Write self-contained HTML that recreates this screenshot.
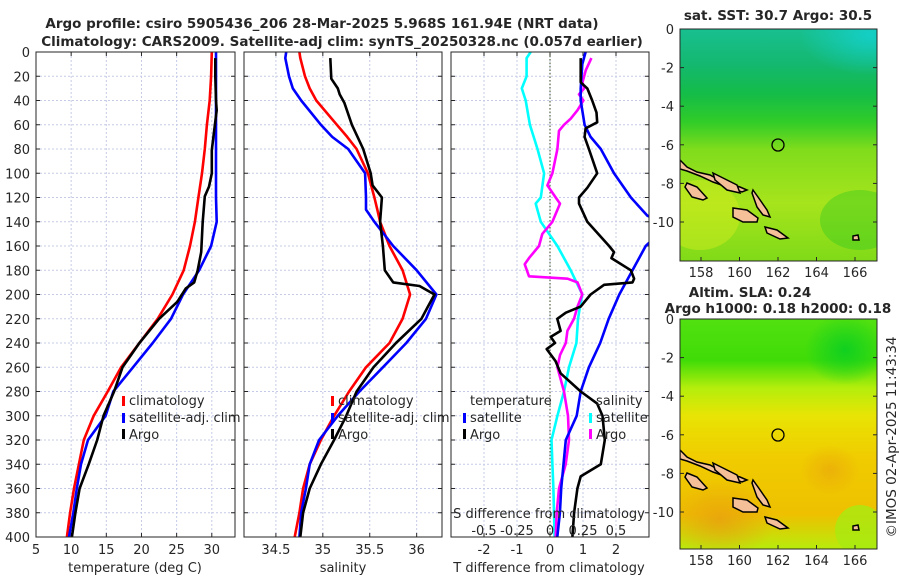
<!DOCTYPE html>
<html><head><meta charset="utf-8">
<style>
body{margin:0;background:#fff;}
svg text{font-family:"DejaVu Sans","Liberation Sans",sans-serif;fill:#262626;}
</style></head>
<body>
<svg id="fig" xmlns="http://www.w3.org/2000/svg" width="900" height="580" viewBox="0 0 900 580">
<defs>
<linearGradient id="sstGrad" x1="0" y1="0" x2="0" y2="1">
<stop offset="0" stop-color="#18c090"/><stop offset="0.15" stop-color="#14b870"/>
<stop offset="0.28" stop-color="#14bc48"/><stop offset="0.4" stop-color="#30cc28"/>
<stop offset="0.52" stop-color="#80dc1c"/><stop offset="0.75" stop-color="#a6e41c"/>
<stop offset="1" stop-color="#80da18"/></linearGradient>
<linearGradient id="sstTeal" x1="0" y1="0" x2="1" y2="0">
<stop offset="0" stop-color="#1ab88a" stop-opacity="0"/><stop offset="1" stop-color="#16d0c8" stop-opacity="0.9"/></linearGradient>
<linearGradient id="slaGrad" x1="0" y1="0" x2="0" y2="1">
<stop offset="0" stop-color="#52e010"/><stop offset="0.18" stop-color="#40dc08"/>
<stop offset="0.3" stop-color="#b4ee0c"/><stop offset="0.42" stop-color="#e8e404"/>
<stop offset="0.6" stop-color="#f0cc00"/><stop offset="0.85" stop-color="#eec000"/>
<stop offset="1" stop-color="#b8ec0c"/></linearGradient>
<radialGradient id="orangeBlob"><stop offset="0" stop-color="#e89a10"/><stop offset="1" stop-color="#e89a10" stop-opacity="0"/></radialGradient>
<radialGradient id="greenBlob"><stop offset="0" stop-color="#10d020"/><stop offset="1" stop-color="#10d020" stop-opacity="0"/></radialGradient>
<radialGradient id="tealBlob"><stop offset="0" stop-color="#14d0cc"/><stop offset="1" stop-color="#14d0cc" stop-opacity="0"/></radialGradient>
<clipPath id="clipP1"><rect x="36" y="52" width="199" height="485"/></clipPath>
<clipPath id="clipP2"><rect x="244" y="52" width="198" height="485"/></clipPath>
<clipPath id="clipP3"><rect x="451" y="52" width="198" height="485"/></clipPath>
<clipPath id="clipM1"><rect x="680" y="29" width="197" height="232"/></clipPath>
<clipPath id="clipM2"><rect x="680" y="319" width="197" height="230"/></clipPath>
</defs>

<text x="322" y="28" text-anchor="middle" font-size="13.5" font-weight="bold">Argo profile: csiro 5905436_206 28-Mar-2025 5.968S 161.94E (NRT data)</text>
<text x="342" y="46" text-anchor="middle" font-size="13.5" font-weight="bold">Climatology: CARS2009. Satellite-adj clim: synTS_20250328.nc (0.057d earlier)</text>

<g id="panels"></g>

<g>
<text x="778" y="20" text-anchor="middle" font-size="13.5" font-weight="bold">sat. SST: 30.7 Argo: 30.5</text>
<g clip-path="url(#clipM1)">
<rect x="680" y="29" width="197" height="232" fill="url(#sstGrad)"/>
<ellipse cx="870" cy="35" rx="70" ry="40" fill="url(#tealBlob)" opacity="0.9"/>
<ellipse cx="700" cy="215" rx="40" ry="35" fill="#d8ee20" opacity="0.45"/>
<ellipse cx="860" cy="220" rx="40" ry="30" fill="#30c820" opacity="0.4"/>
<g id="islandsTop"></g>
</g>
<rect x="680" y="29" width="197" height="232" fill="none" stroke="#262626" stroke-width="1"/>
<circle cx="778" cy="145" r="6" fill="none" stroke="#000" stroke-width="1.3"/>
<g id="map1axes"></g>
</g>
<g>
<text x="750" y="297" text-anchor="middle" font-size="13.5" font-weight="bold">Altim. SLA: 0.24</text>
<text x="778" y="313" text-anchor="middle" font-size="13.5" font-weight="bold">Argo h1000: 0.18 h2000: 0.18</text>
<g clip-path="url(#clipM2)">
<rect x="680" y="319" width="197" height="230" fill="url(#slaGrad)"/>
<ellipse cx="845" cy="350" rx="40" ry="35" fill="url(#greenBlob)"/>
<ellipse cx="720" cy="520" rx="55" ry="40" fill="url(#orangeBlob)" opacity="0.7"/>
<ellipse cx="830" cy="470" rx="30" ry="25" fill="url(#orangeBlob)" opacity="0.5"/>
<ellipse cx="860" cy="530" rx="25" ry="25" fill="#a8ea10" opacity="0.8"/>
<g id="islandsBot"></g>
</g>
<rect x="680" y="319" width="197" height="230" fill="none" stroke="#262626" stroke-width="1"/>
<circle cx="778" cy="435" r="6" fill="none" stroke="#000" stroke-width="1.3"/>
<g id="map2axes"></g>
</g>
<text transform="translate(896,437) rotate(-90)" text-anchor="middle" font-size="13.5">©IMOS 02-Apr-2025 11:43:34</text>
</svg>

<script>
const depthT = [0,20,40,60,80,100,120,140,160,180,200,220,240,260,280,300,320,340,360,380,400];
const tempClim = [30.0,29.9,29.7,29.3,29.0,28.6,28.1,27.6,26.9,26.0,24.4,22.3,19.7,17.1,15.2,13.2,11.8,11.1,10.4,9.85,9.4];
const tempSat  = [30.6,30.6,30.6,30.6,30.6,30.6,30.6,30.7,29.9,28.2,25.9,24.2,21.6,18.8,16.0,14.9,12.4,11.4,10.8,10.3,9.7];
const depthArgoT = [5,20,40,48,62,81,100,111,119,140,165,180,190,195,206,220,240,260,280,300,320,340,360,380,400];
const tempArgo = [30.5,30.5,30.6,30.7,30.4,30.0,30.0,29.6,29.0,28.7,28.5,28.0,27.5,26.3,25.1,22.5,19.7,17.3,16.1,14.6,13.7,12.5,11.2,10.6,10.1];

const depthS = [0,5,20,30,40,60,70,80,100,120,130,140,160,180,200,220,240,260,280,300,320,340,360,380,400];
const salClim = [34.75,34.76,34.81,34.86,34.93,35.15,35.26,35.36,35.48,35.55,35.58,35.61,35.71,35.85,35.93,35.85,35.71,35.46,35.28,35.12,34.98,34.86,34.79,34.75,34.70];
const salSat  = [34.61,34.60,34.64,34.68,34.77,34.98,35.10,35.27,35.45,35.46,35.46,35.55,35.75,36.0,36.21,36.1,35.89,35.64,35.39,35.16,34.96,34.86,34.82,34.77,34.75];
const depthArgoS = [5,22,30,35,42,60,80,100,110,120,140,160,180,190,193,200,210,220,240,260,280,300,320,340,360,380,400];
const salArgo = [35.08,35.09,35.16,35.18,35.23,35.31,35.43,35.51,35.53,35.63,35.61,35.64,35.66,35.75,36.03,36.19,36.12,36.05,35.78,35.54,35.36,35.25,35.12,34.98,34.86,34.79,34.76];

const depthD1 = [0,5,20,30,40,60,80,100,120,125,140,160,180,200,210,220,240,260,280,300,320,340,360,380,400];
const dSalSat = [-0.146,-0.177,-0.177,-0.214,-0.184,-0.152,-0.095,-0.045,-0.07,-0.108,-0.07,0.056,0.157,0.245,0.227,0.212,0.2,0.144,0.106,0.056,0.011,0.018,0.026,0.03,0.035];
const depthD2 = [5,15,25,30,35,40,48,55,60,65,80,100,110,120,125,140,150,160,170,175,185,187,190,200,210,220,230,240,250,260,270,280,300,320,340,360,380,400];
const dSalArgo = [0.314,0.271,0.246,0.258,0.22,0.253,0.208,0.157,0.106,0.068,0.056,0.018,-0.02,0.043,0.076,0.018,-0.058,-0.083,-0.159,-0.192,-0.159,0.133,0.208,0.245,0.208,0.182,0.132,0.12,0.076,0.056,0.081,0.106,0.136,0.144,0.119,0.068,0.051,0.043];
const depthD3 = [0,10,30,40,60,70,80,100,120,135,137,155,160,180,200,220,240,260,280,300,320,340,360,380,400];
const dTempSat = [1.08,0.98,0.93,0.93,1.05,1.23,1.54,1.94,2.45,2.95,3.1,3.1,2.9,2.5,2.1,1.78,1.52,1.18,0.93,0.81,0.48,0.41,0.34,0.3,0.22];
const depthD4 = [5,25,30,40,50,58,63,70,80,100,112,120,125,140,160,165,170,180,187,190,192,200,210,215,220,230,235,240,245,255,265,280,290,300,320,340,350,360,380,400];
const dTempArgo = [0.93,0.93,1.13,1.28,1.41,1.43,1.08,1.05,1.18,1.43,1.13,0.88,0.88,1.13,1.79,1.94,1.86,2.45,2.55,2.5,1.64,1.23,0.93,0.48,0.22,0.32,0.02,0.15,-0.1,0.17,0.32,0.93,1.43,1.59,1.66,1.54,0.93,0.83,0.73,0.68];

const depthTicks = [0,20,40,60,80,100,120,140,160,180,200,220,240,260,280,300,320,340,360,380,400];
const tempTicks = [5,10,15,20,25,30];
const salTicks = [34.5,35,35.5,36];
const tDiffTicks = [-2,-1,0,1,2];
const sDiffTicks = [-0.5,-0.25,0,0.25,0.5];
const latTicks = [0,-2,-4,-6,-8,-10];
const lonTicks = [158,160,162,164,166];

const NS='http://www.w3.org/2000/svg';
const Y0=52, Y1=537;
const yD = d => Y0 + d/400*(Y1-Y0);
const P1={x0:36,x1:235,min:5,max:33.3};
const P2={x0:244,x1:442,min:34.16,max:36.27};
const P3={x0:451,x1:649,min:-3,max:3};
const sx = (p,v) => p.x0 + (v-p.min)/(p.max-p.min)*(p.x1-p.x0);
const root=document.getElementById('panels');
function el(tag,attrs,parent){const e=document.createElementNS(NS,tag);for(const k in attrs)e.setAttribute(k,attrs[k]);(parent||root).appendChild(e);return e;}

function frame(p,name){
  const g=el('g',{});
  
  
  return g;
}
function grid(g,p,xt,xmap){
  depthTicks.forEach(d=>{ if(d>0&&d<400){
    const l=el('line',{x1:p.x0,x2:p.x1,y1:yD(d),y2:yD(d),stroke:'#c5cbe6','stroke-width':1,'stroke-dasharray':'2,2'},g);
    
    }
    const t1=el('line',{x1:p.x0,x2:p.x0+4,y1:yD(d),y2:yD(d),stroke:'#262626'},g);
    
    
    const t2=el('line',{x1:p.x1-4,x2:p.x1,y1:yD(d),y2:yD(d),stroke:'#262626'},g);
    
    
  });
  xt.forEach(v=>{const x=xmap(v);
    const l=el('line',{x1:x,x2:x,y1:Y0,y2:Y1,stroke:'#c5cbe6','stroke-width':1,'stroke-dasharray':'2,2'},g);
    
    
    el('line',{x1:x,x2:x,y1:Y1-4,y2:Y1,stroke:'#262626'},g);
    el('line',{x1:x,x2:x,y1:Y0,y2:Y0+4,stroke:'#262626'},g);
  });
}
function box(g,p){const r=el('rect',{x:p.x0,y:Y0,width:p.x1-p.x0,height:Y1-Y0,fill:'none',stroke:'#262626','stroke-width':1},g);
  
  }
function line(g,depths,vals,xmap,color,name,clip){
  const pts=depths.map((d,i)=>xmap(vals[i]).toFixed(1)+','+yD(d).toFixed(1)).join(' ');
  const pl=el('polyline',{points:pts,fill:'none',stroke:color,'stroke-width':2.6,'stroke-linejoin':'round','clip-path':'url(#'+clip+')'},g);
  
  
}
function txt(g,x,y,s,anchor,name,size){
  const t=el('text',{x:x,y:y,'text-anchor':anchor||'middle','font-size':size||13},g);
  t.textContent=s;
  
  
  return t;
}
function legMark(g,x,y,color,name){
  const r=el('rect',{x:x,y:y-5,width:3,height:10,fill:color},g);
  
  
}

const g1=frame(P1,'temperature-panel');
const xT=v=>sx(P1,v);
grid(g1,P1,tempTicks,xT);
line(g1,depthT,tempClim,xT,'#ff0000','temp-climatology-line','clipP1');
line(g1,depthT,tempSat,xT,'#0000ff','temp-satellite-line','clipP1');
line(g1,depthArgoT,tempArgo,xT,'#000000','temp-argo-line','clipP1');
box(g1,P1);
depthTicks.forEach(d=>txt(g1,30,yD(d)+5,String(d),'end','depth-tick-label'));
tempTicks.forEach(v=>txt(g1,xT(v),554,String(v),'middle','temp-tick-label'));
txt(g1,135,572,'temperature (deg C)','middle','x-axis-title-temperature');
legMark(g1,122,401,'#ff0000','legend-mark-climatology'); txt(g1,129,405,'climatology','start','legend-climatology');
legMark(g1,122,418,'#0000ff','legend-mark-satellite'); txt(g1,129,422,'satellite-adj. clim','start','legend-satellite-adj');
legMark(g1,122,434,'#000000','legend-mark-argo'); txt(g1,129,439,'Argo','start','legend-argo');

const g2=frame(P2,'salinity-panel');
const xS=v=>sx(P2,v);
grid(g2,P2,salTicks,xS);
line(g2,depthS,salClim,xS,'#ff0000','sal-climatology-line','clipP2');
line(g2,depthS,salSat,xS,'#0000ff','sal-satellite-line','clipP2');
line(g2,depthArgoS,salArgo,xS,'#000000','sal-argo-line','clipP2');
box(g2,P2);
salTicks.forEach(v=>txt(g2,xS(v),554,String(v),'middle','sal-tick-label'));
txt(g2,343,572,'salinity','middle','x-axis-title-salinity');
legMark(g2,331,401,'#ff0000','legend-mark-climatology-2'); txt(g2,338,405,'climatology','start','legend-climatology-2');
legMark(g2,331,418,'#0000ff','legend-mark-satellite-2'); txt(g2,338,422,'satellite-adj. clim','start','legend-satellite-adj-2');
legMark(g2,331,434,'#000000','legend-mark-argo-2'); txt(g2,338,439,'Argo','start','legend-argo-2');

const g3=frame(P3,'difference-panel');
const xD=v=>sx(P3,v);
const xSD=v=>sx(P3,v*4);
grid(g3,P3,tDiffTicks,xD);
const z=el('line',{x1:xD(0),x2:xD(0),y1:Y0,y2:Y1,stroke:'#3a4a20','stroke-width':1,'stroke-dasharray':'1.5,2'},g3);


line(g3,depthD1,dSalSat,xSD,'#00ffff','sal-diff-satellite-line','clipP3');
line(g3,depthD2,dSalArgo,xSD,'#ff00ff','sal-diff-argo-line','clipP3');
line(g3,depthD3,dTempSat,xD,'#0000ff','temp-diff-satellite-line','clipP3');
line(g3,depthD4,dTempArgo,xD,'#000000','temp-diff-argo-line','clipP3');
box(g3,P3);
tDiffTicks.forEach(v=>txt(g3,xD(v),554,String(v),'middle','tdiff-tick-label'));
txt(g3,549,572,'T difference from climatology','middle','x-axis-title-tdiff');
sDiffTicks.forEach(v=>txt(g3,xSD(v),535,String(v),'middle','sdiff-tick-label'));
txt(g3,549,518,'S difference from climatology','middle','sdiff-axis-title');
txt(g3,470,405,'temperature','start','legend-temperature-heading');
legMark(g3,463,418,'#0000ff','legend-mark-tsat'); txt(g3,470,422,'satellite','start','legend-tsat');
legMark(g3,463,434,'#000000','legend-mark-targo'); txt(g3,470,439,'Argo','start','legend-targo');
txt(g3,596,405,'salinity','start','legend-salinity-heading');
legMark(g3,589,418,'#00ffff','legend-mark-ssat'); txt(g3,596,422,'satellite','start','legend-ssat');
legMark(g3,589,434,'#ff00ff','legend-mark-sargo'); txt(g3,596,439,'Argo','start','legend-sargo');

function mapAxes(id,top,bottom){
  const g=document.getElementById(id);
  const ly=v=>top + (-v)*19.3;
  const lx=v=>778 + (v-162)*19.25;
  latTicks.forEach(v=>{const y=ly(v);
    el('line',{x1:680,x2:684,y1:y,y2:y,stroke:'#262626'},g);
    el('line',{x1:873,x2:877,y1:y,y2:y,stroke:'#262626'},g);
    txt(g,674,y+5,String(v),'end','lat-tick-label');});
  lonTicks.forEach(v=>{const x=lx(v);
    el('line',{x1:x,x2:x,y1:bottom-4,y2:bottom,stroke:'#262626'},g);
    txt(g,x,bottom+16,String(v),'middle','lon-tick-label');});
}
mapAxes('map1axes',29,261);
mapAxes('map2axes',319,549);

const islands=[
 [[680,160],[687,167],[697,172],[710,175],[723,182],[740,187],[747,190],[742,192],[727,187],[713,182],[700,176],[687,171],[680,169]],
 [[713,173],[737,185],[740,193],[727,190],[715,180]],
 [[753,190],[758,197],[767,210],[770,217],[763,215],[757,207],[752,193]],
 [[733,208],[747,210],[758,218],[757,222],[743,222],[733,217]],
 [[765,227],[777,230],[788,238],[780,239],[767,233]],
 [[687,183],[697,187],[707,198],[703,200],[692,197],[685,187]],
 [[853,236],[858,235],[859,240],[853,240]]
];
function drawIslands(id,dy){
  const g=document.getElementById(id);
  islands.forEach(poly=>{
    const p=el('polygon',{points:poly.map(q=>q[0]+','+(q[1]+dy)).join(' '),fill:'#f5c098',stroke:'#000','stroke-width':1.5},g);
    
    
  });
}
drawIslands('islandsTop',0);
drawIslands('islandsBot',290);
</script>
</body></html>
